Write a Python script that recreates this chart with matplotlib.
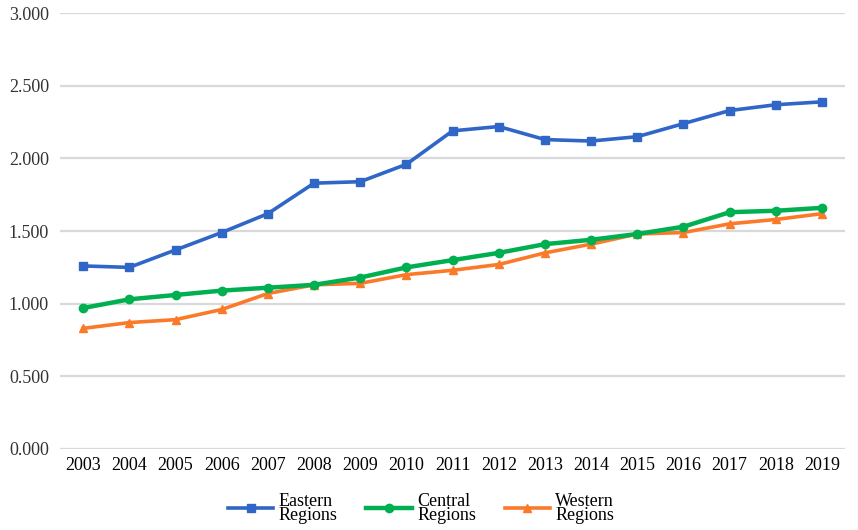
import matplotlib
matplotlib.use("Agg")
import matplotlib.pyplot as plt
from matplotlib.ticker import FuncFormatter

years = [str(y) for y in range(2003, 2020)]
eastern = [1.26, 1.25, 1.37, 1.49, 1.62, 1.83, 1.84, 1.96, 2.19, 2.22, 2.13, 2.12, 2.15, 2.24, 2.33, 2.37, 2.39]
central = [0.97, 1.03, 1.06, 1.09, 1.11, 1.13, 1.18, 1.25, 1.30, 1.35, 1.41, 1.44, 1.48, 1.53, 1.63, 1.64, 1.66]
western = [0.83, 0.87, 0.89, 0.96, 1.07, 1.13, 1.14, 1.20, 1.23, 1.27, 1.35, 1.41, 1.48, 1.49, 1.55, 1.58, 1.62]
labels = ["Eastern\nRegions", "Central\nRegions", "Western\nRegions"]
yticks = [0, 0.5, 1.0, 1.5, 2.0, 2.5, 3.0]

plt.rcParams['font.family'] = ['Liberation Serif', 'DejaVu Serif']

fig = plt.figure(figsize=(8.58, 5.30), dpi=100)
ax = fig.add_axes([0.070, 0.153, 0.915, 0.822])

x = list(range(len(years)))
ax.plot(x, eastern, color='#2F66C8', lw=2.6, marker='s', ms=6, label=labels[0], zorder=4)
ax.plot(x, central, color='#00B050', lw=3.2, marker='o', ms=6, label=labels[1], zorder=3)
ax.plot(x, western, color='#FA7A2A', lw=2.6, marker='^', ms=6, label=labels[2], zorder=2)

ax.set_xlim(-0.5, len(years) - 0.5)
ax.set_ylim(0, 3.0)
ax.set_xticks(x)
ax.set_xticklabels(years, fontsize=13)
ax.set_yticks(yticks)
ax.yaxis.set_major_formatter(FuncFormatter(lambda v, p: f"{v:.3f}"))
ax.tick_params(axis='y', labelsize=13, length=0, pad=8, labelcolor='#333333')
ax.tick_params(axis='x', length=0, pad=6)
for s in ax.spines.values():
    s.set_visible(False)
ax.grid(axis='y', color='#D9D9D9', lw=1.6)
ax.set_axisbelow(True)

leg = ax.legend(loc='upper center', bbox_to_anchor=(0.46, -0.063), ncol=3, frameon=False,
                fontsize=13, handlelength=2.5, columnspacing=1.6, handletextpad=0.3,
                labelspacing=0.1)
for t in leg.get_texts():
    t.set_linespacing(0.8)

fig.savefig("out.png", dpi=100)
